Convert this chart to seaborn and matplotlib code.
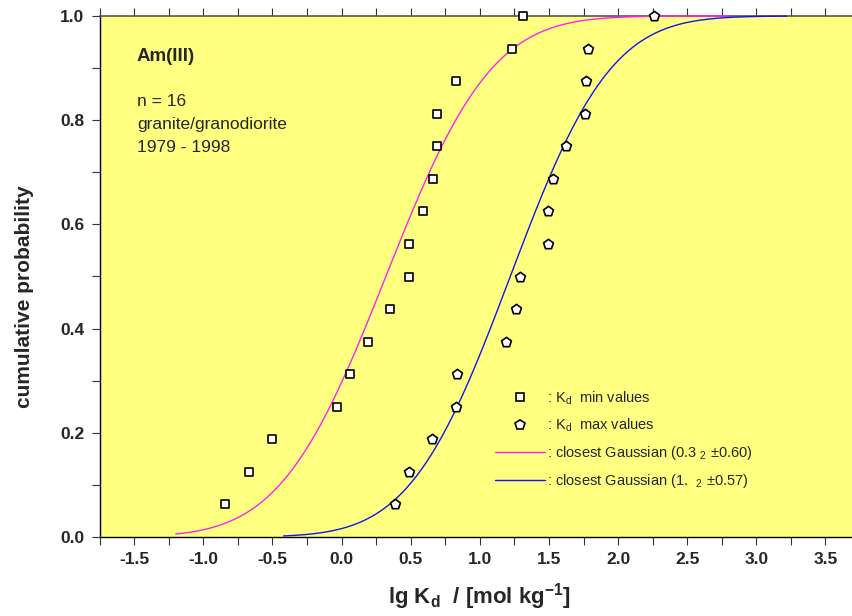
import math
import numpy as np
import pandas as pd
import matplotlib
matplotlib.use("Agg")
import matplotlib.pyplot as plt
from matplotlib.lines import Line2D
from matplotlib.ticker import MultipleLocator, FormatStrFormatter
import seaborn as sns

# ---------------- data ----------------
prob = [0.0625, 0.125, 0.1875, 0.25, 0.3125, 0.375, 0.4375, 0.5,
        0.5625, 0.625, 0.6875, 0.75, 0.8125, 0.875, 0.9375, 1.0]
kd_min = [-0.84, -0.67, -0.505, -0.035, 0.06, 0.19, 0.35, 0.485,
          0.485, 0.59, 0.66, 0.69, 0.69, 0.83, 1.235, 1.31]
kd_max = [0.385, 0.487, 0.656, 0.83, 0.834, 1.186, 1.265, 1.29,
          1.49, 1.49, 1.53, 1.62, 1.76, 1.77, 1.785, 2.26]

gauss_min_mu, gauss_min_sd = 0.32, 0.60
gauss_max_mu, gauss_max_sd = 1.22, 0.57
gauss_min_range = (-1.2, 2.8)
gauss_max_range = (-0.42, 3.22)

xticks = [-1.5, -1.0, -0.5, 0.0, 0.5, 1.0, 1.5, 2.0, 2.5, 3.0, 3.5]
yticks = [0.0, 0.2, 0.4, 0.6, 0.8, 1.0]

# ---------------- style ----------------
sns.set_theme(style="ticks")
plt.rcParams["font.family"] = ["Liberation Sans", "DejaVu Sans"]
plt.rcParams["mathtext.fontset"] = "custom"
plt.rcParams["mathtext.rm"] = "Liberation Sans"
plt.rcParams["mathtext.bf"] = "Liberation Sans:bold"
plt.rcParams["mathtext.it"] = "Liberation Sans:italic"

BG = "#FFFF80"
PINK = "#FF22EE"
BLUE = "#1414F0"

fig = plt.figure(figsize=(8.52, 6.16), dpi=100)
ax = fig.add_axes([99.7 / 852, 1 - 537 / 616, (860 - 99.7) / 852, 521 / 616])
ax.set_facecolor(BG)


def gauss_cdf(mu, sd, lo, hi):
    xs = np.linspace(lo, hi, 400)
    ys = [0.5 * (1 + math.erf((x - mu) / (sd * math.sqrt(2)))) for x in xs]
    return pd.DataFrame({"x": xs, "p": ys})


c1 = gauss_cdf(gauss_min_mu, gauss_min_sd, *gauss_min_range)
c2 = gauss_cdf(gauss_max_mu, gauss_max_sd, *gauss_max_range)
sns.lineplot(data=c1, x="x", y="p", ax=ax, color=PINK, lw=1.0, zorder=3, clip_on=False)
sns.lineplot(data=c2, x="x", y="p", ax=ax, color=BLUE, lw=1.0, zorder=3, clip_on=False)

dmin = pd.DataFrame({"x": kd_min, "p": prob})
dmax = pd.DataFrame({"x": kd_max, "p": prob})
sns.scatterplot(data=dmin, x="x", y="p", ax=ax, marker="s", s=38, color="white",
                edgecolor="black", linewidth=1.2, zorder=5, clip_on=False)
sns.scatterplot(data=dmax, x="x", y="p", ax=ax, marker="p", s=55, color="white",
                edgecolor="black", linewidth=1.2, zorder=5, clip_on=False)

ax.set_xlim(-1.75, 3.75)
ax.set_ylim(0, 1.0)
ax.set_xticks(xticks)
ax.set_yticks(yticks)
ax.xaxis.set_minor_locator(MultipleLocator(0.25))
ax.yaxis.set_minor_locator(MultipleLocator(0.1))
ax.xaxis.set_major_formatter(FormatStrFormatter("%.1f"))
ax.yaxis.set_major_formatter(FormatStrFormatter("%.1f"))
ax.tick_params(axis="both", which="major", length=6, width=0.8, color="#333333",
               labelsize=12.5, direction="out", pad=5)
ax.tick_params(axis="both", which="minor", length=6, width=0.8, color="#333333",
               direction="out")
ax.tick_params(axis="x", which="both", top=True, labeltop=False)
for lab in ax.get_xticklabels() + ax.get_yticklabels():
    lab.set_fontweight("bold")
for s in ["left", "bottom"]:
    ax.spines[s].set_color("black")
    ax.spines[s].set_linewidth(1.0)
ax.spines["top"].set_color("#555555")
ax.spines["top"].set_linewidth(1.2)
ax.spines["right"].set_visible(False)

ax.set_xlabel(r"lg K$_\mathbf{d}$  / [mol kg$^\mathbf{-1}$]", fontsize=16,
              fontweight="bold")
ax.xaxis.label.set_va("center")
ax.xaxis.set_label_coords((479 - 99.7) / (860 - 99.7), (537 - 597) / 521)
ax.set_ylabel("cumulative probability", fontsize=15, fontweight="bold")
ax.yaxis.label.set_va("center")
ax.yaxis.set_label_coords((24 - 99.7) / (860 - 99.7), (537 - 297) / 521)

ax.text(-1.48, 0.923, "Am(III)", fontsize=13.5, fontweight="bold", va="center", ha="left")
ax.text(-1.48, 0.835, "n = 16", fontsize=12.5, va="center", ha="left")
ax.text(-1.48, 0.791, "granite/granodiorite", fontsize=12.5, va="center", ha="left")
ax.text(-1.48, 0.747, "1979 - 1998", fontsize=12.5, va="center", ha="left")

handles = [
    Line2D([], [], ls="none", marker="s", ms=6, mfc="white", mec="black", mew=1.2),
    Line2D([], [], ls="none", marker="p", ms=7, mfc="white", mec="black", mew=1.2),
    Line2D([], [], color=PINK, lw=1.0),
    Line2D([], [], color=BLUE, lw=1.0),
]
labels = [
    r": K$_\mathrm{d}$  min values",
    r": K$_\mathrm{d}$  max values",
    r": closest Gaussian (0.3 $_\mathrm{2}$ ±0.60)",
    r": closest Gaussian (1.  $_\mathrm{2}$ ±0.57)",
]
ax.legend(handles, labels, loc="upper left", bbox_to_anchor=(0.52, 0.283),
          frameon=False, fontsize=10.5, handlelength=3.4, handletextpad=0.15,
          labelspacing=0.68, borderpad=0, borderaxespad=0)

fig.savefig("out.png", dpi=100, facecolor="white")
